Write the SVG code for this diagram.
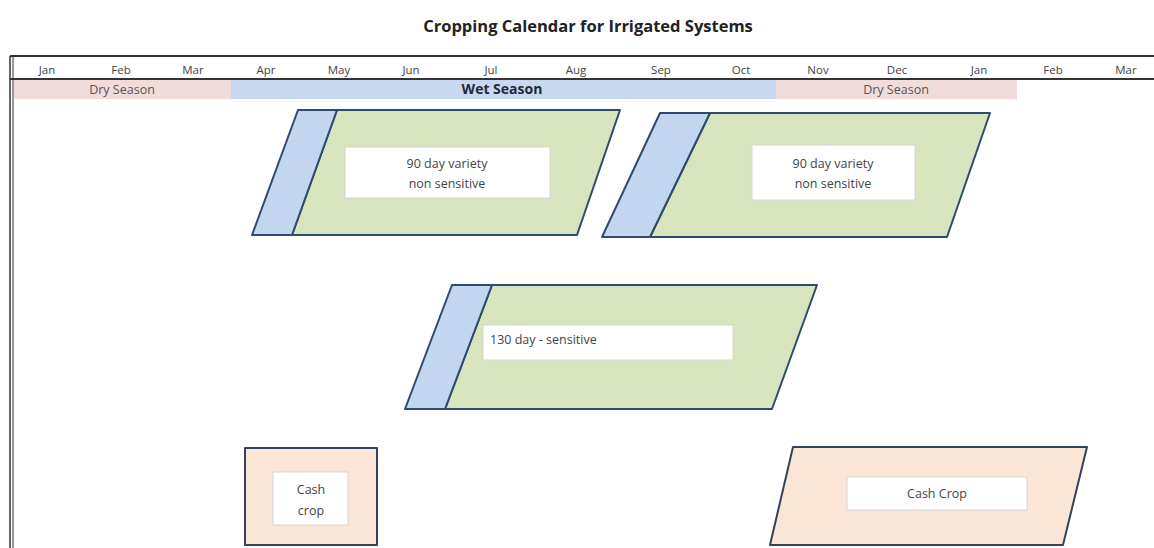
<svg xmlns="http://www.w3.org/2000/svg" width="1154" height="548" viewBox="0 0 1154 548">
  <style>
    .title { font-family: "Open Sans", "Liberation Sans", sans-serif; font-size: 16.5px; font-weight: bold; fill: #222; text-anchor: middle; }
    .month { font-family: "Open Sans", "Liberation Sans", sans-serif; font-size: 11.5px; fill: #444; text-anchor: middle; }
    .season { font-family: "Open Sans", "Liberation Sans", sans-serif; font-size: 12.5px; fill: #555; text-anchor: middle; }
    .wet { font-weight: bold; fill: #1f2a3a; font-size: 14px; }
    .lbl { font-family: "Open Sans", "Liberation Sans", sans-serif; font-size: 12.5px; fill: #444; text-anchor: middle; }
    .lbl-left { text-anchor: start; }
    .frame { stroke: #333; fill: none; }
    .green { fill: #d7e4bd; stroke: #2f4a6e; stroke-width: 2; stroke-linejoin: round; }
    .blue { fill: #c3d6ef; stroke: #2f4a6e; stroke-width: 2; stroke-linejoin: round; }
    .peach { fill: #fbe5d6; stroke: #34435c; stroke-width: 2; stroke-linejoin: round; }
    .box { fill: #ffffff; stroke: #d6d6d6; stroke-width: 1; }
  </style>

  <rect width="1154" height="548" fill="#ffffff"/>

  <text class="title" x="588" y="32">Cropping Calendar for Irrigated Systems</text>

  <!-- calendar frame -->
  <g id="frame">
    <line class="frame" x1="10" y1="56" x2="1154" y2="56" stroke-width="2"/>
    <line class="frame" x1="10" y1="79" x2="1154" y2="79" stroke-width="2"/>
    <line class="frame" x1="10" y1="56" x2="10" y2="548" stroke-width="1.5"/>
    <line class="frame" x1="13" y1="56" x2="13" y2="548" stroke-width="1"/>
  </g>

  <g id="months">
    <text class="month" x="47" y="74">Jan</text>
    <text class="month" x="121" y="74">Feb</text>
    <text class="month" x="193" y="74">Mar</text>
    <text class="month" x="266" y="74">Apr</text>
    <text class="month" x="339" y="74">May</text>
    <text class="month" x="411" y="74">Jun</text>
    <text class="month" x="491" y="74">Jul</text>
    <text class="month" x="576" y="74">Aug</text>
    <text class="month" x="661" y="74">Sep</text>
    <text class="month" x="741" y="74">Oct</text>
    <text class="month" x="818" y="74">Nov</text>
    <text class="month" x="897" y="74">Dec</text>
    <text class="month" x="979" y="74">Jan</text>
    <text class="month" x="1053" y="74">Feb</text>
    <text class="month" x="1126" y="74">Mar</text>
  </g>

  <g id="seasons">
    <rect x="14" y="80" width="217" height="19" fill="#f2dcdb"/>
    <rect x="231" y="80" width="545" height="19" fill="#c6d9f1"/>
    <rect x="776" y="80" width="241" height="19" fill="#f2dcdb"/>
    <text class="season" x="122" y="94">Dry Season</text>
    <text class="season wet" x="502" y="94">Wet Season</text>
    <text class="season" x="896" y="94">Dry Season</text>
  </g>

  <!-- rice crop: 90 day, first planting -->
  <g id="crop-90-first">
    <polygon class="green" points="337,110 620,110 577,235 292,235"/>
    <polygon class="blue" points="298,110 337,110 292,235 252,235"/>
    <rect class="box" x="345" y="147" width="205" height="51"/>
    <text class="lbl" x="447" y="168">90 day variety</text>
    <text class="lbl" x="447" y="188">non sensitive</text>
  </g>

  <!-- rice crop: 90 day, second planting -->
  <g id="crop-90-second">
    <polygon class="green" points="710,113 990,113 947,237 650,237"/>
    <polygon class="blue" points="660,113 710,113 650,237 602,237"/>
    <rect class="box" x="752" y="145" width="163" height="55"/>
    <text class="lbl" x="833" y="168">90 day variety</text>
    <text class="lbl" x="833" y="188">non sensitive</text>
  </g>

  <!-- rice crop: 130 day -->
  <g id="crop-130">
    <polygon class="green" points="492,285 817,285 772,409 445,409"/>
    <polygon class="blue" points="452,285 492,285 445,409 405,409"/>
    <rect class="box" x="483" y="325" width="250" height="35"/>
    <text class="lbl lbl-left" x="490" y="344">130 day - sensitive</text>
  </g>

  <!-- cash crop, early season -->
  <g id="cash-crop-early">
    <rect class="peach" x="245" y="448" width="132" height="97"/>
    <rect class="box" x="273" y="472" width="75" height="53"/>
    <text class="lbl" x="311" y="494">Cash</text>
    <text class="lbl" x="311" y="515">crop</text>
  </g>

  <!-- cash crop, late season -->
  <g id="cash-crop-late">
    <polygon class="peach" points="793,447 1087,447 1063,545 770,545"/>
    <rect class="box" x="847" y="477" width="180" height="33"/>
    <text class="lbl" x="937" y="498">Cash Crop</text>
  </g>
</svg>
